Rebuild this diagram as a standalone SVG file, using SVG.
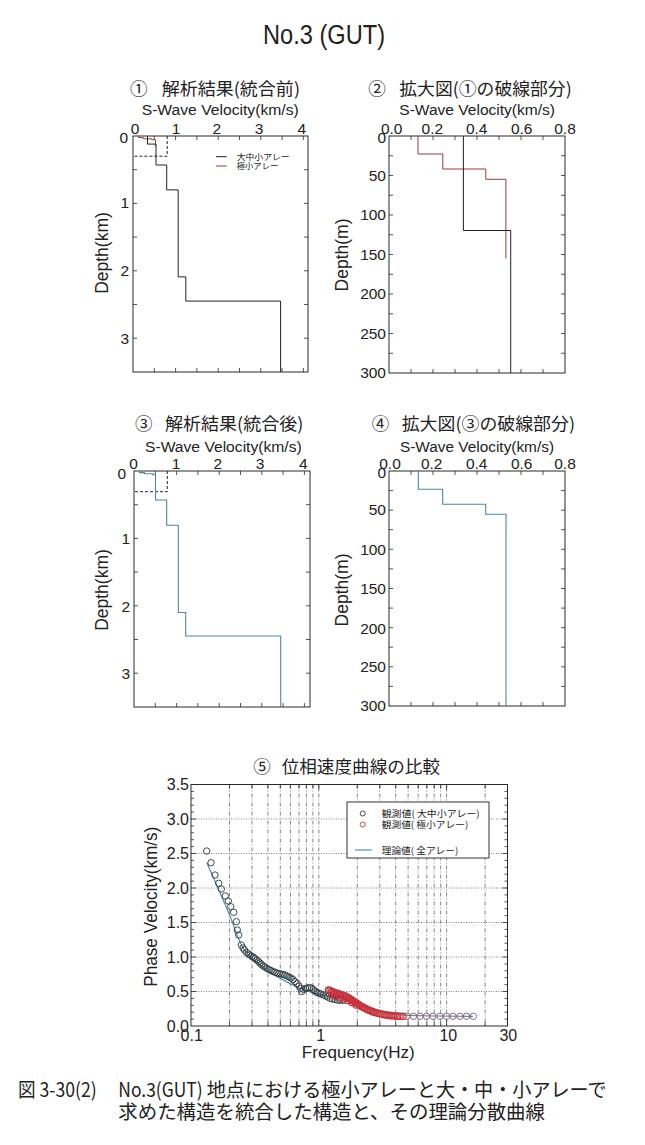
<svg xmlns="http://www.w3.org/2000/svg" width="645" height="1145" viewBox="0 0 645 1145">
<style>
.frame{fill:none;stroke:#2a2a2a;stroke-width:1}
.tick{fill:none;stroke:#2a2a2a;stroke-width:0.8}
.blk{fill:none;stroke:#222;stroke-width:1}
.red{fill:none;stroke:#9b3b3b;stroke-width:1}
.blu{fill:none;stroke:#4f86a6;stroke-width:1.1}
.dash{fill:none;stroke:#222;stroke-width:1;stroke-dasharray:3 2}
.gv{fill:none;stroke:#666;stroke-width:0.8;stroke-dasharray:4 2 1 2}
.gh{fill:none;stroke:#666;stroke-width:0.8;stroke-dasharray:1 1.5}
.th{fill:none;stroke:#4f92aa;stroke-width:1.2}
.cb{fill:none;stroke:#2e3b40;stroke-width:0.9}
.cr{fill:none;stroke:#c8323e;stroke-width:1.2}
.ct{fill:none;stroke:#8a5a66;stroke-width:0.9}
.lab{font-family:"Liberation Sans",Arial,sans-serif;font-size:15.5px;fill:#222}
.ax{font-family:"Liberation Sans",Arial,sans-serif;font-size:17.5px;fill:#222}
.jp{font-family:"Noto Sans CJK JP",sans-serif;fill:#222}
.st{font-size:17.5px}
.lg{font-size:8.5px}
.lg5{font-size:9.5px}
</style>
<rect width="645" height="1145" fill="#fff"/>
<text x="263" y="44" class="lab" style="font-size:27px" textLength="122" lengthAdjust="spacingAndGlyphs">No.3 (GUT)</text>

<g id="panel1">
<text x="130" y="94.5" class="jp st">①</text>
<text x="161.7" y="94.5" class="jp st" textLength="138.3" lengthAdjust="spacingAndGlyphs">解析結果(統合前)</text>
<text x="141.7" y="115" class="lab" textLength="157" lengthAdjust="spacingAndGlyphs">S-Wave Velocity(km/s)</text>
<g class="lab" text-anchor="middle"><text x="135" y="133.7">0</text><text x="176" y="133.7">1</text><text x="216.7" y="133.7">2</text><text x="259" y="133.7">3</text><text x="301.7" y="133.7">4</text></g>
<g class="lab" text-anchor="end"><text x="128" y="143">0</text><text x="129" y="208">1</text><text x="129" y="276.3">2</text><text x="129" y="343.6">3</text></g>
<text class="ax" text-anchor="middle" transform="translate(107.8,253) rotate(-90)">Depth(km)</text>
<rect class="frame" x="133" y="136" width="175" height="236"/>
<path class="tick" d="M154.3 136v4M175.6 136v4M196.9 136v4M218.2 136v4M239.5 136v4M260.8 136v4M282.1 136v4M303.4 136v4M154.3 372v-4M175.6 372v-4M196.9 372v-4M218.2 372v-4M239.5 372v-4M260.8 372v-4M282.1 372v-4M303.4 372v-4M133 169.7h4M133 203.4h4M133 237.1h4M133 270.8h4M133 304.5h4M133 338.2h4M308 169.7h-4M308 203.4h-4M308 237.1h-4M308 270.8h-4M308 304.5h-4M308 338.2h-4"/>
<path class="dash" d="M167.2 136V156.2H133"/>
<path class="red" d="M138.5 136V137.6H143.4V138.8H151.7V139.7H155.6V146.4"/>
<path class="blk" d="M147.5 136V144.1H156V165H166.7V189.9H178.2V276.9H185.8V301.1H280.6V372"/>
<path class="blk" d="M216 156.7h10.7"/>
<path class="red" d="M216 166h10.7"/>
<text x="236.7" y="159.8" class="jp lg" textLength="53" lengthAdjust="spacingAndGlyphs">大中小アレー</text>
<text x="236.7" y="169.2" class="jp lg" textLength="41.6" lengthAdjust="spacingAndGlyphs">極小アレー</text>
</g>

<g id="panel2">
<text x="368.3" y="94.5" class="jp st">②</text>
<text x="399.3" y="94.5" class="jp st" textLength="172.4" lengthAdjust="spacingAndGlyphs">拡大図(①の破線部分)</text>
<text x="399.3" y="115" class="lab" textLength="155.7" lengthAdjust="spacingAndGlyphs">S-Wave Velocity(km/s)</text>
<g class="lab" text-anchor="middle"><text x="391.7" y="133.7">0.0</text><text x="432.3" y="133.7">0.2</text><text x="476.7" y="133.7">0.4</text><text x="521.7" y="133.7">0.6</text><text x="565" y="133.7">0.8</text></g>
<g class="lab" text-anchor="end"><text x="386" y="143">0</text><text x="386" y="180.6">50</text><text x="386" y="220">100</text><text x="386" y="259.5">150</text><text x="386" y="299">200</text><text x="386" y="338.5">250</text><text x="386" y="378.3">300</text></g>
<text class="ax" text-anchor="middle" transform="translate(347.5,255) rotate(-90)">Depth(m)</text>
<rect class="frame" x="389" y="136" width="176" height="237"/>
<path class="tick" d="M411 136v4M433 136v4M455 136v4M477 136v4M499 136v4M521 136v4M543 136v4M411 373v-4M433 373v-4M455 373v-4M477 373v-4M499 373v-4M521 373v-4M543 373v-4M389 155.75h4M389 175.5h4M389 195.25h4M389 215h4M389 234.75h4M389 254.5h4M389 274.25h4M389 294h4M389 313.75h4M389 333.5h4M389 353.25h4M565 155.75h-4M565 175.5h-4M565 195.25h-4M565 215h-4M565 234.75h-4M565 254.5h-4M565 274.25h-4M565 294h-4M565 313.75h-4M565 333.5h-4M565 353.25h-4"/>
<path class="red" d="M418 136V154H442.8V169H485.8V179.3H505.9V258.5"/>
<path class="blk" d="M463.4 136V230.5H510.7V373"/>
</g>

<g id="panel3">
<text x="135" y="429.5" class="jp st">③</text>
<text x="165" y="429.5" class="jp st" textLength="138.3" lengthAdjust="spacingAndGlyphs">解析結果(統合後)</text>
<text x="145" y="452.3" class="lab" textLength="156.7" lengthAdjust="spacingAndGlyphs">S-Wave Velocity(km/s)</text>
<g class="lab" text-anchor="middle"><text x="133.5" y="468.7">0</text><text x="176" y="468.7">1</text><text x="217.7" y="468.7">2</text><text x="260" y="468.7">3</text><text x="303.3" y="468.7">4</text></g>
<g class="lab" text-anchor="end"><text x="126" y="479.4">0</text><text x="130" y="543.7">1</text><text x="130" y="612">2</text><text x="130" y="678.7">3</text></g>
<text class="ax" text-anchor="middle" transform="translate(107.8,590) rotate(-90)">Depth(km)</text>
<rect class="frame" x="134" y="471" width="176" height="236"/>
<path class="tick" d="M155.3 471v4M176.6 471v4M197.9 471v4M219.2 471v4M240.5 471v4M261.8 471v4M283.1 471v4M304.4 471v4M155.3 707v-4M176.6 707v-4M197.9 707v-4M219.2 707v-4M240.5 707v-4M261.8 707v-4M283.1 707v-4M304.4 707v-4M134 504.7h4M134 538.4h4M134 572.1h4M134 605.8h4M134 639.5h4M134 673.2h4M310 504.7h-4M310 538.4h-4M310 572.1h-4M310 605.8h-4M310 639.5h-4M310 673.2h-4"/>
<path class="dash" d="M167.3 471V491.7H134"/>
<path class="blu" d="M139.5 471V472.6H144.4V473.8H152.7V474.7H155.5V500H166.7V525.3H178.3V612.5H185.7V636H280.7V707"/>
</g>

<g id="panel4">
<text x="371.7" y="429.5" class="jp st">④</text>
<text x="401.7" y="429.5" class="jp st" textLength="173.3" lengthAdjust="spacingAndGlyphs">拡大図(③の破線部分)</text>
<text x="400" y="452" class="lab" textLength="154" lengthAdjust="spacingAndGlyphs">S-Wave Velocity(km/s)</text>
<g class="lab" text-anchor="middle"><text x="390" y="468.7">0.0</text><text x="431.7" y="468.7">0.2</text><text x="476.7" y="468.7">0.4</text><text x="521.7" y="468.7">0.6</text><text x="565" y="468.7">0.8</text></g>
<g class="lab" text-anchor="end"><text x="386" y="478.3">0</text><text x="386" y="515.3">50</text><text x="386" y="554.6">100</text><text x="386" y="594.3">150</text><text x="386" y="633.6">200</text><text x="386" y="672">250</text><text x="386" y="711.3">300</text></g>
<text class="ax" text-anchor="middle" transform="translate(347.5,590) rotate(-90)">Depth(m)</text>
<rect class="frame" x="389" y="471" width="176" height="235"/>
<path class="tick" d="M411 471v4M433 471v4M455 471v4M477 471v4M499 471v4M521 471v4M543 471v4M411 706v-4M433 706v-4M455 706v-4M477 706v-4M499 706v-4M521 706v-4M543 706v-4M389 490.6h4M389 510.2h4M389 529.7h4M389 549.3h4M389 568.9h4M389 588.5h4M389 608.1h4M389 627.7h4M389 647.2h4M389 666.8h4M389 686.4h4M565 490.6h-4M565 510.2h-4M565 529.7h-4M565 549.3h-4M565 568.9h-4M565 588.5h-4M565 608.1h-4M565 627.7h-4M565 647.2h-4M565 666.8h-4M565 686.4h-4"/>
<path class="blu" d="M418.3 471V489.3H442.7V504.3H485.7V514.3H506V706"/>
</g>

<g id="panel5">
<text x="253.3" y="772.5" class="jp st">⑤</text>
<text x="281.7" y="772.5" class="jp st" textLength="158.3" lengthAdjust="spacingAndGlyphs">位相速度曲線の比較</text>
<path class="gv" d="M229.5 784.5V1026M252 784.5V1026M267.9 784.5V1026M280.3 784.5V1026M290.4 784.5V1026M299 784.5V1026M306.4 784.5V1026M312.9 784.5V1026M318.8 784.5V1026M357.3 784.5V1026M379.8 784.5V1026M395.7 784.5V1026M408.1 784.5V1026M418.2 784.5V1026M426.8 784.5V1026M434.2 784.5V1026M440.7 784.5V1026M446.6 784.5V1026M485.1 784.5V1026"/>
<path class="gh" d="M191 991.5H507.5M191 957H507.5M191 922.5H507.5M191 888H507.5M191 853.5H507.5M191 819H507.5"/>
<path class="tick" d="M191 1019.1h3M191 1012.2h3M191 1005.3h3M191 998.4h3M191 991.5h5M191 984.6h3M191 977.7h3M191 970.8h3M191 963.9h3M191 957h5M191 950.1h3M191 943.2h3M191 936.3h3M191 929.4h3M191 922.5h5M191 915.6h3M191 908.7h3M191 901.8h3M191 894.9h3M191 888h5M191 881.1h3M191 874.2h3M191 867.3h3M191 860.4h3M191 853.5h5M191 846.6h3M191 839.7h3M191 832.8h3M191 825.9h3M191 819h5M191 812.1h3M191 805.2h3M191 798.3h3M191 791.4h3M507.5 1019.1h-3M507.5 1012.2h-3M507.5 1005.3h-3M507.5 998.4h-3M507.5 991.5h-5M507.5 984.6h-3M507.5 977.7h-3M507.5 970.8h-3M507.5 963.9h-3M507.5 957h-5M507.5 950.1h-3M507.5 943.2h-3M507.5 936.3h-3M507.5 929.4h-3M507.5 922.5h-5M507.5 915.6h-3M507.5 908.7h-3M507.5 901.8h-3M507.5 894.9h-3M507.5 888h-5M507.5 881.1h-3M507.5 874.2h-3M507.5 867.3h-3M507.5 860.4h-3M507.5 853.5h-5M507.5 846.6h-3M507.5 839.7h-3M507.5 832.8h-3M507.5 825.9h-3M507.5 819h-5M507.5 812.1h-3M507.5 805.2h-3M507.5 798.3h-3M507.5 791.4h-3M229.5 1026v-4M252 1026v-4M267.9 1026v-4M280.3 1026v-4M290.4 1026v-4M299 1026v-4M306.4 1026v-4M312.9 1026v-4M318.8 1026v-6M357.3 1026v-4M379.8 1026v-4M395.7 1026v-4M408.1 1026v-4M418.2 1026v-4M426.8 1026v-4M434.2 1026v-4M440.7 1026v-4M446.6 1026v-6M485.1 1026v-4M229.5 784.5v4M252 784.5v4M267.9 784.5v4M280.3 784.5v4M290.4 784.5v4M299 784.5v4M306.4 784.5v4M312.9 784.5v4M318.8 784.5v6M357.3 784.5v4M379.8 784.5v4M395.7 784.5v4M408.1 784.5v4M418.2 784.5v4M426.8 784.5v4M434.2 784.5v4M440.7 784.5v4M446.6 784.5v6M485.1 784.5v4"/>
<polyline class="th" points="206.8,862.5 209.7,869.4 213.5,877.7 217.1,885.9 220.4,893.5 223.6,901.1 226.6,908 229.5,914.9 232.2,921.8 234.7,928.7 237.2,935.6 239.6,941.1 241.9,946 244,949.4 248.1,954.2 252,958.4 260.5,965.3 267.9,970.8 274.5,974.9 280.3,978.4 290.4,983.9 299,988 306.4,990.8 312.9,992.9 318.8,994.3 328.9,996.3 341.3,999.1 357.3,1004.6 369.7,1008.8 379.8,1011.5 395.7,1014.3 408.1,1015.3 434.2,1016 473,1016.3"/>
<g class="cb">
<circle cx="206.7" cy="851" r="3.2"/><circle cx="211" cy="862.7" r="3.2"/><circle cx="215" cy="875" r="3.2"/><circle cx="218.7" cy="883.3" r="3.2"/><circle cx="221.3" cy="889" r="3.2"/><circle cx="225.3" cy="896" r="3.2"/><circle cx="228.3" cy="901" r="3.2"/><circle cx="230.7" cy="906.7" r="3.2"/><circle cx="233.7" cy="912.3" r="3.2"/><circle cx="236.3" cy="921.7" r="3.2"/><circle cx="237.3" cy="930" r="3.2"/><circle cx="238.7" cy="935" r="3.2"/><circle cx="241.3" cy="945" r="3.2"/><circle cx="243" cy="948" r="3.2"/><circle cx="244.5" cy="950" r="3.2"/><circle cx="246.7" cy="952.7" r="3.2"/><circle cx="248.5" cy="954" r="3.2"/><circle cx="250" cy="955" r="3.2"/><circle cx="252" cy="956.5" r="3.2"/><circle cx="253.5" cy="957.5" r="3.2"/><circle cx="255" cy="958.5" r="3.2"/><circle cx="256.7" cy="960" r="3.2"/><circle cx="258.5" cy="961.5" r="3.2"/><circle cx="260" cy="963" r="3.2"/><circle cx="261.5" cy="964.5" r="3.2"/><circle cx="263.3" cy="966" r="3.2"/><circle cx="265" cy="967" r="3.2"/><circle cx="267" cy="968.5" r="3.2"/><circle cx="269" cy="969.5" r="3.2"/><circle cx="271" cy="970.5" r="3.2"/><circle cx="273" cy="971.5" r="3.2"/><circle cx="275" cy="972.3" r="3.2"/><circle cx="277" cy="973" r="3.2"/><circle cx="279" cy="973.5" r="3.2"/><circle cx="281" cy="974" r="3.2"/><circle cx="283" cy="974.5" r="3.2"/><circle cx="285" cy="975" r="3.2"/><circle cx="287" cy="976" r="3.2"/><circle cx="289" cy="977" r="3.2"/><circle cx="291" cy="978" r="3.2"/><circle cx="293" cy="979.5" r="3.2"/><circle cx="295" cy="981.5" r="3.2"/><circle cx="297" cy="983.5" r="3.2"/><circle cx="299" cy="986" r="3.2"/><circle cx="300.5" cy="988.5" r="3.2"/><circle cx="301.7" cy="991.5" r="3.2"/><circle cx="303.5" cy="989.5" r="3.2"/><circle cx="305.5" cy="988.5" r="3.2"/><circle cx="307.5" cy="988" r="3.2"/><circle cx="309.5" cy="987.5" r="3.2"/><circle cx="311.5" cy="988" r="3.2"/><circle cx="313.3" cy="989.5" r="3.2"/><circle cx="315" cy="991" r="3.2"/><circle cx="317" cy="992.5" r="3.2"/><circle cx="319" cy="993.3" r="3.2"/><circle cx="321" cy="994" r="3.2"/><circle cx="323.3" cy="995" r="3.2"/><circle cx="325.5" cy="996" r="3.2"/><circle cx="327.5" cy="997" r="3.2"/><circle cx="330" cy="998.3" r="3.2"/><circle cx="332.5" cy="999" r="3.2"/><circle cx="335" cy="999.5" r="3.2"/><circle cx="337.5" cy="1000" r="3.2"/><circle cx="340" cy="1000.3" r="3.2"/><circle cx="343.3" cy="1000.5" r="3.2"/>
</g>
<g class="cr">
<circle cx="328.5" cy="990" r="3.2"/><circle cx="330" cy="990.5" r="3.2"/><circle cx="331.5" cy="991.5" r="3.2"/><circle cx="333" cy="992" r="3.2"/><circle cx="334.5" cy="992.5" r="3.2"/><circle cx="336" cy="993" r="3.2"/><circle cx="337.5" cy="993.5" r="3.2"/><circle cx="339" cy="994" r="3.2"/><circle cx="340.5" cy="994.5" r="3.2"/><circle cx="342" cy="995" r="3.2"/><circle cx="343.5" cy="995.5" r="3.2"/><circle cx="345" cy="996" r="3.2"/><circle cx="346.5" cy="996.7" r="3.2"/><circle cx="348" cy="997.5" r="3.2"/><circle cx="349.5" cy="998.5" r="3.2"/><circle cx="351" cy="999.5" r="3.2"/><circle cx="352.5" cy="1000.5" r="3.2"/><circle cx="354" cy="1001.5" r="3.2"/><circle cx="355.5" cy="1002.5" r="3.2"/><circle cx="357" cy="1003.5" r="3.2"/><circle cx="358.5" cy="1004.5" r="3.2"/><circle cx="360" cy="1005.5" r="3.2"/><circle cx="361.5" cy="1006.5" r="3.2"/><circle cx="363" cy="1007.3" r="3.2"/><circle cx="364.5" cy="1008" r="3.2"/><circle cx="366" cy="1008.8" r="3.2"/><circle cx="367.5" cy="1009.5" r="3.2"/><circle cx="369" cy="1010.2" r="3.2"/><circle cx="370.5" cy="1010.8" r="3.2"/><circle cx="372" cy="1011.4" r="3.2"/><circle cx="373.5" cy="1012" r="3.2"/><circle cx="375" cy="1012.5" r="3.2"/><circle cx="377" cy="1013" r="3.2"/><circle cx="379" cy="1013.5" r="3.2"/><circle cx="381" cy="1014" r="3.2"/><circle cx="383" cy="1014.4" r="3.2"/><circle cx="385" cy="1014.8" r="3.2"/><circle cx="387" cy="1015.1" r="3.2"/><circle cx="389" cy="1015.4" r="3.2"/><circle cx="391" cy="1015.6" r="3.2"/><circle cx="393" cy="1015.8" r="3.2"/><circle cx="395" cy="1016" r="3.2"/><circle cx="397.5" cy="1016.1" r="3.2"/><circle cx="400" cy="1016.2" r="3.2"/><circle cx="403" cy="1016.3" r="3.2"/>
<circle cx="332" cy="995" r="3.2"/><circle cx="336" cy="996.5" r="3.2"/><circle cx="340" cy="997.8" r="3.2"/><circle cx="344" cy="999" r="3.2"/><circle cx="348" cy="1000.5" r="3.2"/><circle cx="352" cy="1002.5" r="3.2"/><circle cx="356" cy="1005" r="3.2"/>
</g>
<g class="ct">
<circle cx="407" cy="1016.3" r="3.2"/><circle cx="413.5" cy="1016.3" r="3.2"/><circle cx="420" cy="1016.3" r="3.2"/><circle cx="426.5" cy="1016.3" r="3.2"/><circle cx="433" cy="1016.3" r="3.2"/><circle cx="440" cy="1016.3" r="3.2"/><circle cx="446.5" cy="1016.3" r="3.2"/><circle cx="453" cy="1016.3" r="3.2"/><circle cx="460" cy="1016.3" r="3.2"/><circle cx="466.5" cy="1016.3" r="3.2"/><circle cx="473.3" cy="1016.3" r="3.2"/>
</g>
<rect class="frame" x="191" y="784.5" width="316.5" height="241.5"/>
<g id="legend5">
<rect x="347" y="802" width="142" height="56" fill="#fff" stroke="#333" stroke-width="1"/>
<circle cx="362.7" cy="813.5" r="2.5" class="cb"/>
<circle cx="362.7" cy="824.5" r="2.5" fill="none" stroke="#b04050" stroke-width="0.9"/>
<path class="th" d="M355 850h16.7"/>
<text x="381.7" y="817" class="jp lg5" textLength="98" lengthAdjust="spacingAndGlyphs">観測値( 大中小アレー)</text>
<text x="381.7" y="828" class="jp lg5" textLength="86.6" lengthAdjust="spacingAndGlyphs">観測値( 極小アレー)</text>
<text x="381.7" y="853.5" class="jp lg5" textLength="76.6" lengthAdjust="spacingAndGlyphs">理論値( 全アレー)</text>
</g>
<g class="lab" style="font-size:16px" text-anchor="end"><text x="189" y="790.2">3.5</text><text x="189" y="824.7">3.0</text><text x="189" y="859.2">2.5</text><text x="189" y="893.7">2.0</text><text x="189" y="928.2">1.5</text><text x="189" y="962.7">1.0</text><text x="189" y="997.2">0.5</text><text x="189" y="1031.7">0.0</text></g>
<g class="lab" style="font-size:16px" text-anchor="middle"><text x="191.7" y="1041">0.1</text><text x="320.7" y="1041">1</text><text x="448.3" y="1041">10</text><text x="508.3" y="1041">30</text></g>
<text x="358.3" y="1058" class="ax" style="font-size:17px" text-anchor="middle" textLength="113" lengthAdjust="spacingAndGlyphs">Frequency(Hz)</text>
<text class="ax" text-anchor="middle" textLength="160" lengthAdjust="spacingAndGlyphs" transform="translate(157,906.7) rotate(-90)">Phase Velocity(km/s)</text>
</g>

<g id="caption" class="jp" style="font-size:19.5px">
<text x="18" y="1097.3" textLength="78.7" lengthAdjust="spacingAndGlyphs">図 3-30(2)</text>
<text x="118.3" y="1097.3" textLength="84.4" lengthAdjust="spacingAndGlyphs">No.3(GUT)</text>
<text x="206.7" y="1097.3" textLength="400" lengthAdjust="spacingAndGlyphs">地点における極小アレーと大・中・小アレーで</text>
<text x="118.3" y="1119.3" textLength="426.7" lengthAdjust="spacingAndGlyphs">求めた構造を統合した構造と、その理論分散曲線</text>
</g>
</svg>
